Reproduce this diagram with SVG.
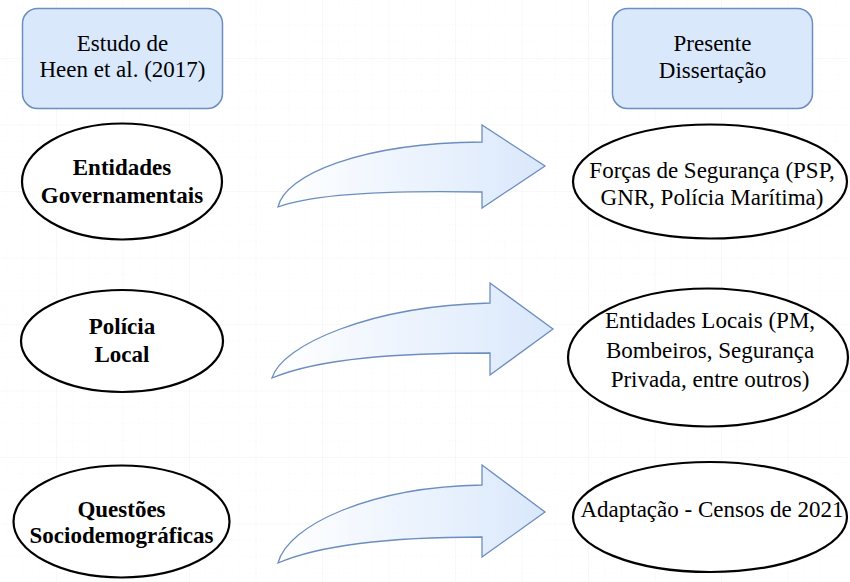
<svg xmlns="http://www.w3.org/2000/svg" width="850" height="582" viewBox="0 0 850 582">
  <style>
    .hdr { fill: #dae8fc; stroke: #6c8ebf; stroke-width: 1.5; }
    .ell { fill: #ffffff; stroke: #000000; stroke-width: 2.2; }
    .arr { fill: url(#arrGrad); stroke: #6c8ebf; stroke-width: 1.3; stroke-linejoin: miter; }
    .t { font-family: 'Liberation Serif', 'DejaVu Serif', serif; font-size: 23px; fill: #000; text-anchor: middle; }
    .b { font-weight: bold; }
  </style>
  <defs>
    <linearGradient id="arrGrad" x1="0" y1="0" x2="1" y2="0">
      <stop offset="0" stop-color="#ffffff"/>
      <stop offset="1" stop-color="#dae8fc"/>
    </linearGradient>
    <pattern id="grid" patternUnits="userSpaceOnUse" x="56" y="58" width="66.5" height="66.5">
      <path d="M0,16.6 H66.5 M0,33.25 H66.5 M0,49.9 H66.5 M16.6,0 V66.5 M33.25,0 V66.5 M49.9,0 V66.5" stroke="#f7f7f7" stroke-width="1" stroke-dasharray="1,3" fill="none"/>
      <path d="M0,0 H66.5 M0,0 V66.5" stroke="#f1f1f1" stroke-width="1" fill="none"/>
    </pattern>
  </defs>
  <rect width="850" height="582" fill="#ffffff"/>
  <rect width="850" height="582" fill="url(#grid)"/>

  <g id="connectors">
    <path class="arr" d="M278,207 C285,175 360,143 482,142 L482,125 L545,166 L482,208 L482,192 C380,190 310,195 278,207 Z"/>
    <path class="arr" d="M272,378 C282,345 370,306 490,303 L490,283 L553,329 L490,375 L490,353 C400,353 320,358 272,378 Z"/>
    <path class="arr" d="M278,563 C288,525 370,487 482,485 L482,465 L545,512 L482,557 L482,537 C390,537 320,545 278,563 Z"/>
  </g>

  <g id="hdr-heen">
    <rect class="hdr" x="22.5" y="8.5" width="200" height="100" rx="15" ry="15"/>
    <text class="t" x="122.5" y="51">Estudo de</text>
    <text class="t" x="122.5" y="77">Heen et al. (2017)</text>
  </g>
  <g id="hdr-dissertacao">
    <rect class="hdr" x="612.5" y="8.5" width="200" height="100" rx="15" ry="15"/>
    <text class="t" x="712.5" y="51">Presente</text>
    <text class="t" x="712.5" y="78">Dissertação</text>
  </g>

  <g id="l1">
    <ellipse class="ell" cx="122" cy="181.5" rx="100" ry="58"/>
    <text class="t b" x="122" y="175">Entidades</text>
    <text class="t b" x="122" y="203">Governamentais</text>
  </g>
  <g id="l2">
    <ellipse class="ell" cx="122" cy="341" rx="101" ry="51"/>
    <text class="t b" x="122" y="334">Polícia</text>
    <text class="t b" x="122" y="362">Local</text>
  </g>
  <g id="l3">
    <ellipse class="ell" cx="121.5" cy="521.5" rx="108" ry="56"/>
    <text class="t b" x="121.5" y="517">Questões</text>
    <text class="t b" x="121.5" y="543">Sociodemográficas</text>
  </g>

  <g id="r1">
    <ellipse class="ell" cx="710" cy="181.5" rx="137" ry="57"/>
    <text class="t" x="712" y="178">Forças de Segurança (PSP,</text>
    <text class="t" x="712" y="205">GNR, Polícia Marítima)</text>
  </g>
  <g id="r2">
    <ellipse class="ell" cx="708" cy="357.5" rx="140" ry="69"/>
    <text class="t" x="710" y="328">Entidades Locais (PM,</text>
    <text class="t" x="710" y="358">Bombeiros, Segurança</text>
    <text class="t" x="710" y="387">Privada, entre outros)</text>
  </g>
  <g id="r3">
    <ellipse class="ell" cx="710" cy="517" rx="137" ry="55"/>
    <text class="t" x="712" y="517">Adaptação - Censos de 2021</text>
  </g>
</svg>
